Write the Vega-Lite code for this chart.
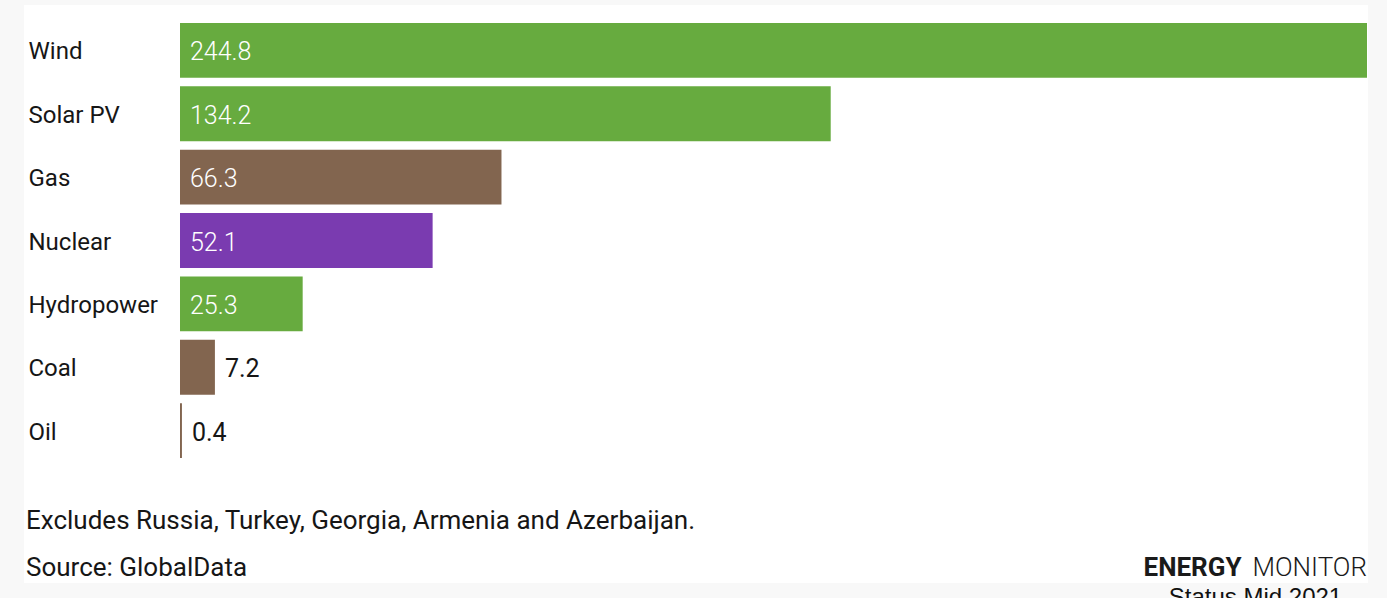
{
  "$schema": "https://vega.github.io/schema/vega-lite/v6.json",
  "width": 1344,
  "height": 578,
  "autosize": {"type": "none"},
  "padding": {"left": 24, "top": 5, "right": 19, "bottom": 15},
  "background": "#f8f8f8",
  "config": {"view": {"fill": "white", "stroke": null}, "font": "Roboto"},
  "data": {
    "values": [
      {"source": "Wind", "value": 244.8, "kind": "Renewable"},
      {"source": "Solar PV", "value": 134.2, "kind": "Renewable"},
      {"source": "Gas", "value": 66.3, "kind": "Fossil"},
      {"source": "Nuclear", "value": 52.1, "kind": "Nuclear"},
      {"source": "Hydropower", "value": 25.3, "kind": "Renewable"},
      {"source": "Coal", "value": 7.2, "kind": "Fossil"},
      {"source": "Oil", "value": 0.4, "kind": "Fossil"}
    ]
  },
  "title": {
    "text": ["Excludes Russia, Turkey, Georgia, Armenia and Azerbaijan.", "Source: GlobalData"],
    "orient": "bottom",
    "anchor": "start",
    "frame": "group",
    "offset": -101,
    "dx": 2,
    "fontSize": 26,
    "fontWeight": "normal",
    "font": "Roboto",
    "color": "#161616",
    "lineHeight": 47
  },
  "resolve": {"scale": {"x": "shared", "y": "shared"}, "axis": {"x": "independent", "y": "independent"}},
  "layer": [
    {
      "mark": {"type": "bar"},
      "encoding": {
        "y": {
          "field": "source", "type": "nominal", "sort": null,
          "scale": {"range": [18, 453], "paddingInner": 0.134, "paddingOuter": 0},
          "axis": {
            "orient": "left", "title": null, "ticks": false, "tickSize": 0, "domain": false,
            "labelAlign": "left", "labelPadding": -4, "labelFontSize": 24, "labelColor": "#161616",
            "labelFont": "Roboto", "labelFontWeight": "normal", "labelOffset": 2
          }
        },
        "x": {
          "field": "value", "type": "quantitative",
          "scale": {"domain": [0, 244.8], "nice": false, "zero": true, "range": [156, 1343]},
          "axis": {
            "orient": "bottom", "labels": false, "ticks": false, "domain": false, "grid": false,
            "title": "ENERGY", "titleFont": "Roboto", "titleFontWeight": "bold", "titleFontSize": 26,
            "titleColor": "#1a1a1a", "titleX": 1119, "titleY": -8, "titleAlign": "left", "titleBaseline": "alphabetic"
          }
        },
        "color": {
          "field": "kind", "type": "nominal",
          "scale": {"domain": ["Renewable", "Fossil", "Nuclear"], "range": ["#67ab3f", "#82654f", "#7a3bb0"]},
          "legend": null
        }
      }
    },
    {
      "transform": [{"filter": "datum.value > 20"}],
      "mark": {"type": "text", "align": "left", "baseline": "middle", "dx": 10, "dy": 2, "fontSize": 25, "color": "white", "font": "Roboto", "fontWeight": 300},
      "encoding": {
        "y": {"field": "source", "type": "nominal", "sort": null, "axis": null},
        "x": {"datum": 0, "type": "quantitative", "axis": null},
        "text": {"field": "value", "type": "quantitative", "format": ".1f"}
      }
    },
    {
      "transform": [{"filter": "datum.value <= 20"}],
      "mark": {"type": "text", "align": "left", "baseline": "middle", "dx": 10, "dy": 2, "fontSize": 25, "color": "#161616", "font": "Roboto"},
      "encoding": {
        "y": {
          "field": "source", "type": "nominal", "sort": null,
          "axis": {
            "orient": "right", "labels": false, "ticks": false, "domain": false, "grid": false,
            "title": "Status Mid 2021", "titleAngle": 0, "titleFont": "Liberation Sans", "titleFontWeight": "normal",
            "titleFontSize": 24, "titleColor": "#111111", "titleX": -113, "titleY": 599,
            "titleAlign": "center", "titleBaseline": "alphabetic"
          }
        },
        "x": {
          "field": "value", "type": "quantitative",
          "axis": {
            "orient": "top", "labels": false, "ticks": false, "domain": false, "grid": false,
            "title": "MONITOR", "titleFont": "Roboto", "titleFontWeight": 300, "titleFontSize": 26,
            "titleColor": "#1a1a1a", "titleX": 1228, "titleY": 570, "titleAlign": "left", "titleBaseline": "alphabetic"
          }
        },
        "text": {"field": "value", "type": "quantitative", "format": ".1f"}
      }
    }
  ]
}
